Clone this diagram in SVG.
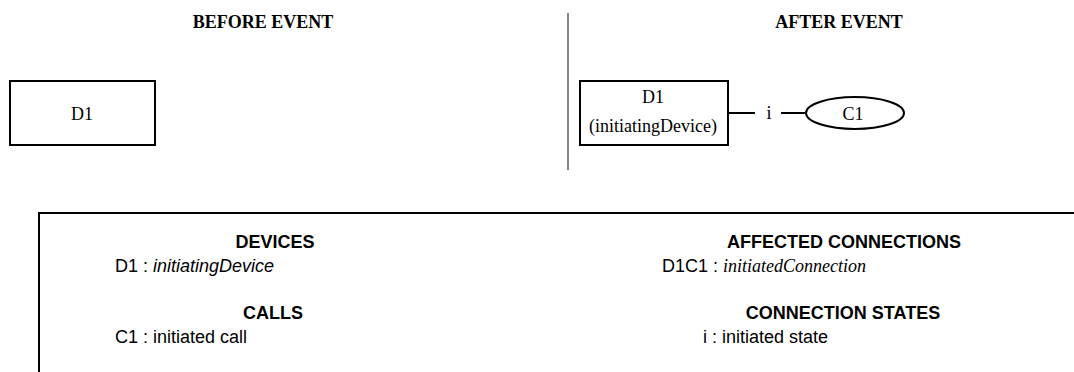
<svg xmlns="http://www.w3.org/2000/svg" width="1074" height="372" viewBox="0 0 1074 372">
<style>
.box{fill:#fff;stroke:#000;stroke-width:2}
.t{font-family:"Liberation Serif","Times New Roman",serif;font-size:18px;fill:#000}
.tb{font-family:"Liberation Serif","Times New Roman",serif;font-size:18px;font-weight:bold;fill:#000}
.a{font-family:"Liberation Sans",Arial,sans-serif;font-size:18px;fill:#000}
.ab{font-family:"Liberation Sans",Arial,sans-serif;font-size:18px;font-weight:bold;fill:#000}
.ln{stroke:#000;stroke-width:2;fill:none}
</style>
<rect width="1074" height="372" fill="#fff"/>
<text class="tb" x="263" y="28" text-anchor="middle">BEFORE EVENT</text>
<text class="tb" x="839" y="28" text-anchor="middle">AFTER EVENT</text>
<line x1="568" y1="13" x2="568" y2="170" stroke="#888" stroke-width="2"/>
<g id="before-D1">
<rect class="box" x="10" y="81" width="145" height="64"/>
<text class="t" x="82" y="120" text-anchor="middle">D1</text>
</g>
<g id="after-D1">
<rect class="box" x="580" y="81" width="148" height="64"/>
<text class="t" x="653" y="103" text-anchor="middle">D1</text>
<text class="t" x="653" y="132" text-anchor="middle">(initiatingDevice)</text>
</g>
<g id="after-C1">
<ellipse class="box" cx="855" cy="113" rx="49" ry="16"/>
<text class="t" x="853" y="120" text-anchor="middle">C1</text>
</g>
<g id="connectors">
<line class="ln" x1="728" y1="113" x2="755" y2="113"/>
<text class="t" x="769" y="119" text-anchor="middle">i</text>
<line class="ln" x1="781" y1="113" x2="806" y2="113"/>
</g>
<g id="legend">
<path class="ln" d="M1074,213 H39 V372"/>
<text class="ab" x="275" y="248" text-anchor="middle">DEVICES</text>
<text class="a" x="115" y="272">D1 : <tspan font-style="italic">initiatingDevice</tspan></text>
<text class="ab" x="273" y="319" text-anchor="middle">CALLS</text>
<text class="a" x="115" y="343">C1 : initiated call</text>
<text class="ab" x="844" y="248" text-anchor="middle">AFFECTED CONNECTIONS</text>
<text class="a" x="662" y="272">D1C1 : <tspan class="t" font-style="italic">initiatedConnection</tspan></text>
<text class="ab" x="843" y="319" text-anchor="middle">CONNECTION STATES</text>
<text class="a" x="703" y="343">i : initiated state</text>
</g>
</svg>
